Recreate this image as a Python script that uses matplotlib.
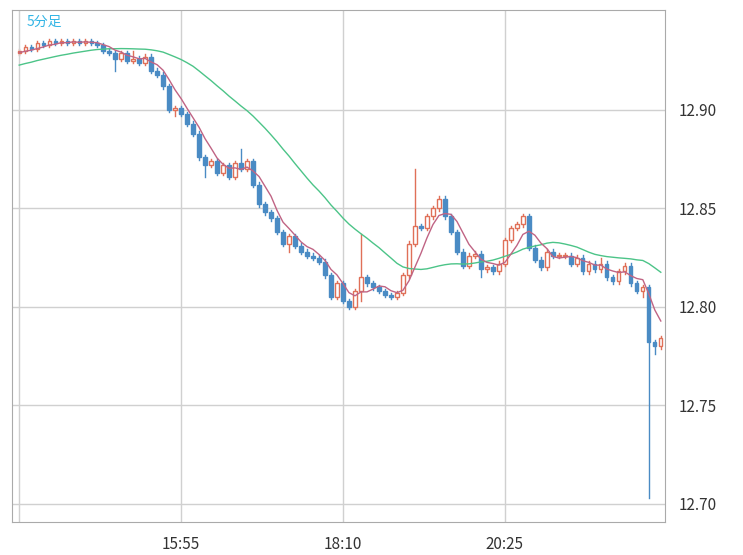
import numpy as np
import pandas as pd
import matplotlib
matplotlib.use("Agg")
import matplotlib.pyplot as plt

plt.rcParams["font.family"] = ["Noto Sans CJK JP", "DejaVu Sans"]

# 表示範囲より前の終値 (移動平均の計算用, 推定)
pre_closes = [
    12.912, 12.914, 12.913, 12.916, 12.918, 12.917, 12.919, 12.921, 12.920, 12.922,
    12.923, 12.922, 12.924, 12.925, 12.924, 12.926, 12.927, 12.926, 12.928, 12.927,
    12.929, 12.928, 12.930, 12.929,
]
# 5分足の終値 (13:40 から)
closes = [
    12.930, 12.932, 12.931, 12.934, 12.933, 12.935, 12.934, 12.935, 12.934, 12.935, 12.934, 12.935, 12.934, 12.933,
    12.930, 12.929, 12.926, 12.929, 12.925, 12.926, 12.924, 12.927, 12.920, 12.918,
    12.912, 12.900, 12.901, 12.898, 12.893, 12.888, 12.876, 12.872, 12.874, 12.868,
    12.872, 12.866, 12.873, 12.870, 12.874, 12.862, 12.852, 12.848, 12.845, 12.838,
    12.832, 12.836, 12.831, 12.828, 12.826, 12.825, 12.823, 12.816, 12.805, 12.812,
    12.803, 12.800, 12.808, 12.815, 12.812, 12.810, 12.808, 12.806, 12.805, 12.807,
    12.816, 12.832, 12.841, 12.840, 12.846, 12.850, 12.855, 12.846, 12.838, 12.828,
    12.821, 12.826, 12.827, 12.819, 12.820, 12.818, 12.822, 12.834, 12.840, 12.842,
    12.846, 12.830, 12.824, 12.820, 12.828, 12.826, 12.826, 12.826, 12.822, 12.825,
    12.818, 12.822, 12.819, 12.822, 12.815, 12.813, 12.818, 12.821, 12.812, 12.808,
    12.810, 12.782, 12.780, 12.784,
]
first_open = 12.929
# 目立つヒゲの先端 (index: price)
wick_highs = {15: 12.931, 19: 12.930, 37: 12.880, 57: 12.837, 66: 12.870, 84: 12.847, 97: 12.825}
wick_lows = {16: 12.920, 26: 12.897, 31: 12.866, 45: 12.828, 57: 12.803, 77: 12.815, 104: 12.805, 105: 12.703, 106: 12.776}
tick_pos = [27, 54, 81]
tick_labels = ["15:55", "18:10", "20:25"]
y_ticks = [12.70, 12.75, 12.80, 12.85, 12.90]

opens = [first_open] + closes[:-1]
n_pre = len(pre_closes)
s = pd.Series(pre_closes + closes)
ma_short = s.rolling(5, min_periods=1).mean().iloc[n_pre:].to_numpy()
ma_long = s.rolling(25, min_periods=1).mean().iloc[n_pre:].to_numpy()

fig = plt.figure(figsize=(7.43, 5.55), dpi=100)
ax = fig.add_axes([12 / 743, 33 / 555, 653 / 743, 512 / 555])

up_c, dn_c = "#e07058", "#4a8bc4"
w = 0.55
for i, (o, c) in enumerate(zip(opens, closes)):
    hi = max(o, c, wick_highs.get(i, max(o, c) + 0.0012))
    lo = min(o, c, wick_lows.get(i, min(o, c) - 0.0012))
    col = up_c if c >= o else dn_c
    top, bot = max(o, c), min(o, c)
    ax.plot([i, i], [top, hi], color=col, lw=1, zorder=2)
    ax.plot([i, i], [lo, bot], color=col, lw=1, zorder=2)
    h = max(top - bot, 0.0004)
    if c >= o:
        ax.add_patch(plt.Rectangle((i - w / 2, bot), w, h, facecolor="white", edgecolor=col, lw=1, zorder=3))
    else:
        ax.add_patch(plt.Rectangle((i - w / 2, bot), w, h, facecolor=col, edgecolor=col, lw=1, zorder=3))

x = np.arange(len(closes))
ax.plot(x, ma_long, color="#4cc488", lw=1, zorder=4)
ax.plot(x, ma_short, color="#c06484", lw=1, zorder=4)

ax.set_xlim(-1.2, 107.7)
ax.set_ylim(12.6907, 12.9508)
ax.yaxis.tick_right()
ax.set_yticks(y_ticks)
ax.set_yticklabels([f"{v:.2f}" for v in y_ticks], fontsize=11, color="#333333")
ax.set_xticks(tick_pos)
ax.set_xticklabels(tick_labels, fontsize=11, color="#333333")
ax.tick_params(length=0, pad=10)
ax.grid(True, color="#d0d0d0", lw=1)
ax.axvline(0, color="#d0d0d0", lw=1)
ax.set_axisbelow(True)
for sp in ax.spines.values():
    sp.set_color("#aaaaaa")
ax.text(0.022, 0.99, "5分足", transform=ax.transAxes, ha="left", va="top", fontsize=10, color="#33b5e5")

fig.savefig("out.png", dpi=100)
